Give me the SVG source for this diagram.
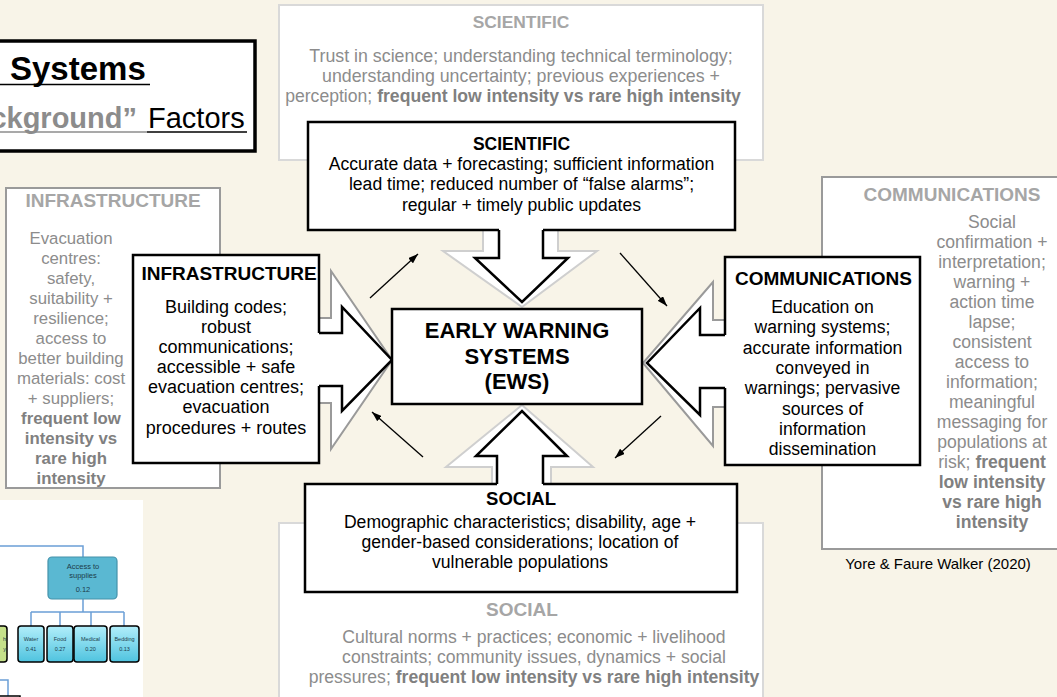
<svg xmlns="http://www.w3.org/2000/svg" width="1057" height="697" viewBox="0 0 1057 697">
<style>
text{font-family:"Liberation Sans",Arial,sans-serif}
.bgbox{fill:#fff;stroke-width:2}
.light{stroke:#d9d9d9}
.mid{stroke:#9a9a9a}
.box{fill:#fff;stroke:#000;stroke-width:2.5}
.gh{font-size:19px;font-weight:bold;fill:#a6a6a6;text-anchor:middle}
.gt{font-size:17.6px;fill:#8c8c8c;text-anchor:middle}
.gb{font-weight:bold;fill:#808080}
.bh{font-size:19px;font-weight:bold;fill:#000;text-anchor:middle}
.bt{font-size:17.6px;fill:#000;text-anchor:middle}
.afill{fill:#fff;stroke:none}
.gline{fill:none;stroke-width:2}
.bline{fill:none;stroke:#000;stroke-width:2.5}
.small{stroke:#000;stroke-width:1.3;marker-end:url(#ah)}
.tree{fill:none;stroke:#6b9fd6;stroke-width:1.5}
.leaf{fill:url(#lg);stroke:#000;stroke-width:1.5}
.lt{font-size:5.5px;fill:#1d3c4a;text-anchor:middle}
</style>
<defs>
<marker id="ah" markerWidth="10" markerHeight="7" refX="10" refY="3.5" orient="auto" markerUnits="userSpaceOnUse">
<path d="M0,0 L10,3.5 L0,7 z" fill="#000"/>
</marker>
<linearGradient id="lg" x1="0" y1="0" x2="0" y2="1">
<stop offset="0" stop-color="#b2eefa"/>
<stop offset="1" stop-color="#4fc3df"/>
</linearGradient>
</defs>
<rect x="0" y="0" width="1057" height="697" fill="#f8f4e8"/>

<!-- background factor boxes -->
<g id="bg-scientific">
<rect class="bgbox light" x="279" y="5" width="484" height="155"/>
<text class="gh" x="521" y="28" style="font-size:17.4px">SCIENTIFIC</text>
<text class="gt" x="521" y="62" style="font-size:17.8px">Trust in science; understanding technical terminology;</text>
<text class="gt" x="521" y="82" style="font-size:17.8px">understanding uncertainty; previous experiences +</text>
<text class="gt" x="513" y="102">perception; <tspan class="gb">frequent low intensity vs rare high intensity</tspan></text>
</g>
<g id="bg-social">
<rect class="bgbox light" x="279" y="523" width="484" height="185"/>
<text class="gh" x="522" y="616">SOCIAL</text>
<text class="gt" x="534" y="643">Cultural norms + practices; economic + livelihood</text>
<text class="gt" x="534" y="663">constraints; community issues, dynamics + social</text>
<text class="gt" x="534" y="683">pressures; <tspan class="gb">frequent low intensity vs rare high intensity</tspan></text>
</g>
<g id="bg-infrastructure">
<rect class="bgbox mid" x="6" y="188" width="214" height="300"/>
<text class="gh" x="113" y="207">INFRASTRUCTURE</text>
<g class="gt" style="font-size:16.8px">
<text x="71" y="244">Evacuation</text>
<text x="71" y="264">centres:</text>
<text x="71" y="284">safety,</text>
<text x="71" y="304">suitability +</text>
<text x="71" y="324">resilience;</text>
<text x="71" y="344">access to</text>
<text x="71" y="364">better building</text>
<text x="71" y="384">materials: cost</text>
<text x="71" y="404">+ suppliers;</text>
<text class="gb" x="71" y="424">frequent low</text>
<text class="gb" x="71" y="444">intensity vs</text>
<text class="gb" x="71" y="464">rare high</text>
<text class="gb" x="71" y="484">intensity</text>
</g>
</g>
<g id="bg-communications">
<rect class="bgbox mid" x="822" y="177" width="250" height="372"/>
<text class="gh" x="952" y="201">COMMUNICATIONS</text>
<g class="gt">
<text x="992" y="228">Social</text>
<text x="992" y="248">confirmation +</text>
<text x="992" y="268">interpretation;</text>
<text x="992" y="288">warning +</text>
<text x="992" y="308">action time</text>
<text x="992" y="328">lapse;</text>
<text x="992" y="348">consistent</text>
<text x="992" y="368">access to</text>
<text x="992" y="388">information;</text>
<text x="992" y="408">meaningful</text>
<text x="992" y="428">messaging for</text>
<text x="992" y="448">populations at</text>
<text x="992" y="468">risk; <tspan class="gb">frequent</tspan></text>
<text class="gb" x="992" y="488">low intensity</text>
<text class="gb" x="992" y="508">vs rare high</text>
<text class="gb" x="992" y="528">intensity</text>
</g>
</g>

<!-- title -->
<g id="title">
<rect x="-5" y="41" width="260" height="110" fill="#fff" stroke="#000" stroke-width="3.5"/>
<text x="10" y="80" style="font-size:33px;font-weight:bold" fill="#000">Systems</text>
<line x1="0" y1="84.5" x2="150" y2="84.5" stroke="#000" stroke-width="1.5"/>
<text x="137" y="128" style="font-size:29px;font-weight:bold;text-anchor:end" fill="#8c8c8c">ckground”</text>
<text x="148" y="128" style="font-size:29px" fill="#000">Factors</text>
<line x1="0" y1="132" x2="147" y2="132" stroke="#8c8c8c" stroke-width="1.5"/>
<line x1="147" y1="132" x2="247" y2="132" stroke="#000" stroke-width="1.5"/>
</g>

<!-- inset fragment -->
<g id="inset">
<rect x="-1" y="500" width="144" height="200" fill="#fff"/>
<path class="tree" d="M0,546 H83 V557 M83,599 V612 M31,612 H124 M31,612 V626 M60,612 V626 M91,612 V626 M124,612 V626 M0,680 H8 V697"/>
<rect x="48" y="557" width="69" height="42" rx="4" fill="#5ab8d2" stroke="#4592aa" stroke-width="1.2"/>
<text x="83" y="569" style="font-size:7.5px;text-anchor:middle" fill="#1d3c4a">Access to</text>
<text x="83" y="578" style="font-size:7.5px;text-anchor:middle" fill="#1d3c4a">supplies</text>
<text x="83" y="592" style="font-size:7.5px;text-anchor:middle" fill="#1d3c4a">0.12</text>
<rect x="-6" y="626" width="13" height="36" rx="3" fill="#c5e08a" stroke="#000" stroke-width="1.5"/>
<text x="6" y="641" style="font-size:5.5px;text-anchor:end" fill="#1d3c4a">h</text>
<text x="6" y="651" style="font-size:5.5px;text-anchor:end" fill="#1d3c4a">y</text>
<rect class="leaf" x="18" y="626" width="26" height="36" rx="3"/>
<text class="lt" x="31" y="641">Water</text><text class="lt" x="31" y="651">0.41</text>
<rect class="leaf" x="47" y="626" width="26" height="36" rx="3"/>
<text class="lt" x="60" y="641">Food</text><text class="lt" x="60" y="651">0.27</text>
<rect class="leaf" x="74" y="626" width="33" height="36" rx="3"/>
<text class="lt" x="90.5" y="641">Medical</text><text class="lt" x="90.5" y="651">0.20</text>
<rect class="leaf" x="110" y="626" width="29" height="36" rx="3"/>
<text class="lt" x="124.5" y="641">Bedding</text><text class="lt" x="124.5" y="651">0.13</text>
<rect x="-6" y="696" width="26" height="10" fill="#fff" stroke="#000" stroke-width="1.5"/>
</g>

<!-- gray background arrows -->
<g id="gray-arrows">
<polygon class="afill" points="483,220 483,251 443,251 522,307 597,251 558,251 558,220"/>
<polyline class="gline" stroke="#cfcfcf" points="483,220 483,251 443,251 522,307 597,251 558,251 558,220"/>
<polygon class="afill" points="492,495 492,467 446,467 522,405 593,467 551,467 551,495"/>
<polyline class="gline" stroke="#cfcfcf" points="492,495 492,467 446,467 522,405 593,467 551,467 551,495"/>
<polygon class="afill" points="300,318 331,318 331,271 392,360 331,449 331,403 300,403"/>
<polyline class="gline" stroke="#9a9a9a" points="300,318 331,318 331,271 392,360 331,449 331,403 300,403"/>
<polygon class="afill" points="740,320 713,320 713,282 643,363 713,446 713,407 740,407"/>
<polyline class="gline" stroke="#9a9a9a" points="740,320 713,320 713,282 643,363 713,446 713,407 740,407"/>
</g>

<!-- factor nodes -->
<g id="scientific">
<rect class="box" x="308" y="122" width="427" height="108"/>
<text class="bh" x="521.5" y="150" style="font-size:17.5px">SCIENTIFIC</text>
<text class="bt" x="521.5" y="170">Accurate data + forecasting; sufficient information</text>
<text class="bt" x="521.5" y="190">lead time; reduced number of “false alarms”;</text>
<text class="bt" x="521.5" y="211">regular + timely public updates</text>
</g>
<g id="social">
<rect class="box" x="305" y="484" width="432" height="108"/>
<text class="bh" x="521" y="505" style="font-size:18.5px">SOCIAL</text>
<text class="bt" x="520" y="528">Demographic characteristics; disability, age +</text>
<text class="bt" x="520" y="548">gender-based considerations; location of</text>
<text class="bt" x="520" y="568">vulnerable populations</text>
</g>
<g id="infrastructure">
<rect class="box" x="133" y="255" width="186" height="208"/>
<text class="bh" x="229" y="280">INFRASTRUCTURE</text>
<g class="bt" style="font-size:18px">
<text x="226" y="313">Building codes;</text>
<text x="226" y="333">robust</text>
<text x="226" y="353">communications;</text>
<text x="226" y="373">accessible + safe</text>
<text x="226" y="393">evacuation centres;</text>
<text x="226" y="413">evacuation</text>
<text x="226" y="434">procedures + routes</text>
</g>
</g>
<g id="communications">
<rect class="box" x="725" y="257" width="195" height="208"/>
<text class="bh" x="823.5" y="285">COMMUNICATIONS</text>
<text class="bt" x="822.5" y="313">Education on</text>
<text class="bt" x="822.5" y="333">warning systems;</text>
<text class="bt" x="822.5" y="354">accurate information</text>
<text class="bt" x="822.5" y="374">conveyed in</text>
<text class="bt" x="822.5" y="394">warnings; pervasive</text>
<text class="bt" x="822.5" y="415">sources of</text>
<text class="bt" x="822.5" y="435">information</text>
<text class="bt" x="822.5" y="455">dissemination</text>
</g>

<!-- connectors -->
<g id="connectors">
<polygon class="afill" points="499,228 499,258 475,258 522,302 568,258 543,258 543,228"/>
<polyline class="bline" points="499,230 499,258 475,258 522,302 568,258 543,258 543,230"/>
<polygon class="afill" points="497,486 497,456 476,456 522,411 567,456 543,456 543,486"/>
<polyline class="bline" points="497,484 497,456 476,456 522,411 567,456 543,456 543,484"/>
<polygon class="afill" points="317,333 342,333 342,307 392,360 342,411 342,386 317,386"/>
<polyline class="bline" points="319,333 342,333 342,307 392,360 342,411 342,386 319,386"/>
<polygon class="afill" points="727,335 700,335 700,308 647,363 700,415 700,388 727,388"/>
<polyline class="bline" points="725,335 700,335 700,308 647,363 700,415 700,388 725,388"/>
<line class="small" x1="370" y1="298" x2="418" y2="254"/>
<line class="small" x1="620" y1="253" x2="667" y2="306"/>
<line class="small" x1="661" y1="416" x2="615" y2="458"/>
<line class="small" x1="423" y1="457" x2="372" y2="412"/>
</g>

<g id="ews">
<rect class="box" x="392" y="309" width="250" height="95"/>
<text x="517" y="338" style="font-size:22px;font-weight:bold;text-anchor:middle">EARLY WARNING</text>
<text x="517" y="364" style="font-size:22px;font-weight:bold;text-anchor:middle">SYSTEMS</text>
<text x="517" y="389" style="font-size:22px;font-weight:bold;text-anchor:middle">(EWS)</text>
</g>

<text x="938" y="569" style="font-size:15px;text-anchor:middle" fill="#000">Yore &amp; Faure Walker (2020)</text>
</svg>
